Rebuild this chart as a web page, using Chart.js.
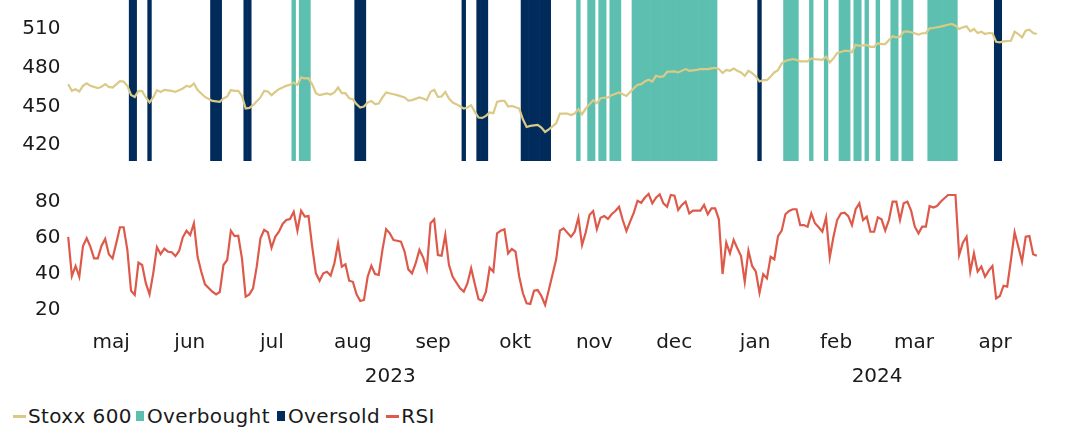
<!DOCTYPE html>
<html><head><meta charset="utf-8">
<script src="https://cdn.jsdelivr.net/npm/chart.js@4.4.1/dist/chart.umd.min.js"></script>
<style>
html,body{margin:0;padding:0;background:#fff;width:1074px;height:430px;overflow:hidden;}
#c1{position:absolute;left:0;top:0;}
#c2{position:absolute;left:0;top:170px;}
#legend{position:absolute;left:13px;top:404px;display:flex;align-items:center;font-family:"DejaVu Sans",sans-serif;font-size:20px;letter-spacing:0.4px;color:#1a1a1a;white-space:nowrap;line-height:24px;}
#legend .it{display:flex;align-items:center;}
#legend .ln{display:inline-block;width:13px;height:3px;margin-right:2px;}
#legend .bx{display:inline-block;width:8px;height:10px;margin-right:3px;}
</style></head>
<body>
<canvas id="c1" width="1074" height="161"></canvas>
<canvas id="c2" width="1074" height="229"></canvas>
<div id="legend">
  <span class="it"><span class="ln" style="background:#DACA85"></span>Stoxx 600</span>
  <span class="it" style="margin-left:4px"><span class="bx" style="background:#5CBFB0"></span>Overbought</span>
  <span class="it" style="margin-left:7px"><span class="bx" style="background:#012B5B"></span>Oversold</span>
  <span class="it" style="margin-left:6px"><span class="ln" style="background:#DD5A4B"></span>RSI</span>
</div>
<script>
// ---- data (x = trading-day index, 0 = 28 Apr 2023) ----
const stoxxDays = [0,1,2,3,4,5,6,8,9,10,11,12,13,14,15,16,17,18,19,20,21,22,23,24,25,26,28,29,31,32,33,34,35,37,39,41,42,43,44,45,46,47,48,49,50,52,53,54,55,56,57,59,60,61,62,63,64,65,66,67,68,70,71,72,73,74,75,76,77,78,79,80,81,82,83,84,85,86,88,89,91,92,93,95,96,97,98,99,100,101,102,103,104,105,107,108,109,110,111,112,113,114,115,116,117,118,119,120,122,123,124,125,127,128,129,130,132,133,135,136,137,138,139,140,142,143,144,146,147,149,151,152,154,155,156,157,158,159,160,161,162,164,165,167,168,170,171,173,174,175,176,177,178,179,180,181,182,183,184,185,186,187,188,189,190,191,192,193,194,196,197,198,200,201,202,204,205,206,207,208,210,211,212,213,214,216,217,218,219,220,221,223,224,225,226,227,229,230,231,232,233,234,236,238,239,240,241,242,243,244,245,246,247,248,249,250,251,252,253,255,256,257,258,259,260,261,262];
const stoxxValues = [467.2,462.0,463.3,461.5,465.9,467.8,465.9,464.1,465.1,467.2,465.1,464.6,467.0,469.6,469.3,465.9,458.9,457.3,462.0,461.8,456.9,453.0,456.9,462.6,461.2,462.8,462.0,461.2,463.9,465.9,465.1,467.8,462.6,457.3,454.2,453.5,456.1,457.6,462.6,462.0,462.0,458.1,448.3,448.8,450.9,456.9,462.0,461.5,458.7,461.2,463.3,465.9,466.7,468.5,466.7,472.4,471.7,471.9,467.2,460.2,458.7,460.0,459.2,460.8,464.6,460.2,460.2,456.3,455.5,451.7,449.1,449.9,453.0,454.2,451.7,452.2,456.9,460.8,459.4,458.7,456.9,454.5,454.8,456.9,456.1,454.8,461.2,462.8,457.3,457.6,461.2,456.1,453.0,451.7,448.3,449.1,450.9,445.7,441.3,441.0,442.6,445.2,444.7,453.5,454.2,454.2,449.9,450.3,448.3,440.0,434.0,434.8,435.6,433.5,430.1,432.2,436.9,444.4,444.4,443.3,444.4,447.8,443.9,448.3,454.8,452.4,456.3,456.9,458.7,460.8,458.1,461.2,466.7,467.2,469.3,470.7,469.3,473.7,472.9,473.2,476.8,477.1,476.3,478.9,477.6,478.3,478.9,478.9,479.4,479.9,478.9,475.8,478.3,477.6,479.4,477.6,476.3,473.7,477.6,475.8,473.2,469.3,470.3,470.3,473.2,476.3,478.1,483.3,485.3,486.7,486.1,484.9,484.9,487.2,486.7,486.1,488.5,484.1,487.2,491.3,493.1,493.1,491.9,497.8,497.0,497.6,496.2,496.2,498.9,498.3,498.3,504.3,503.5,504.0,507.9,508.2,506.7,505.6,506.7,506.7,510.5,510.8,511.8,513.3,513.9,512.6,510.0,511.3,512.1,508.2,510.0,506.9,507.9,506.1,506.9,506.7,500.1,499.7,500.4,500.9,507.9,506.1,503.5,508.7,509.5,506.9,506.1];

const rsiDays = [0,1,2,3,4,5,6,7,8,9,10,11,12,13,14,15,16,17,18,19,20,21,22,23,24,25,26,27,28,29,30,31,32,33,34,35,36,37,39,40,41,42,43,44,45,46,47,48,49,50,51,52,53,54,55,56,57,58,59,60,61,62,63,64,65,66,67,68,69,70,71,72,73,74,75,76,77,78,79,80,81,82,83,84,85,86,87,88,89,90,91,92,93,94,95,96,97,98,99,100,101,102,103,104,106,107,108,109,110,111,112,113,114,115,116,117,118,119,120,121,122,123,124,125,126,127,128,129,130,132,133,134,135,136,137,138,139,140,141,142,143,144,145,146,147,148,149,150,151,152,153,154,155,156,157,158,159,160,161,162,163,164,165,166,167,168,169,171,172,173,174,175,176,177,178,179,180,181,182,183,184,185,186,187,188,189,190,191,192,193,194,195,196,197,198,199,200,201,202,203,204,205,206,207,208,209,210,211,212,213,214,215,216,217,218,219,220,221,222,223,224,225,226,227,228,229,230,231,232,233,234,235,236,237,238,240,241,242,243,244,245,246,247,248,249,250,251,252,253,254,255,256,257,258,259,260,261,262];
const rsiValues = [60.4,38.6,44.2,38.2,55.3,59.6,54.9,48.4,48.4,55.3,59.2,50.7,48.4,56.8,65.7,65.7,53.1,30.4,28.1,46.0,44.7,34.6,28.4,40.1,54.6,50.8,53.8,52.1,51.8,49.7,52.5,60.1,63.8,61.4,67.9,49.3,41.0,34.0,29.9,28.4,29.7,44.7,47.5,63.8,60.8,61.0,48.4,27.1,28.4,31.8,43.8,59.6,64.2,62.9,54.3,60.4,63.2,67.5,69.7,70.3,74.3,63.8,74.9,71.6,71.9,54.9,40.1,36.0,40.1,41.0,38.8,45.7,56.8,43.8,45.1,36.0,35.4,28.4,24.7,25.3,38.2,44.3,39.7,39.2,53.1,64.6,62.3,58.6,58.2,57.7,52.1,42.3,40.1,45.7,53.1,49.0,42.3,67.9,70.1,50.3,49.9,61.4,44.7,38.2,31.8,29.9,34.6,42.9,34.0,25.7,24.9,29.9,43.2,41.0,62.3,63.8,64.6,51.2,53.6,52.1,38.2,29.0,23.4,23.1,30.4,30.8,27.5,22.5,30.8,47.9,63.8,65.1,62.7,60.4,63.2,71.0,55.8,62.9,72.5,74.7,64.6,71.0,71.9,70.3,72.9,74.7,77.1,69.7,63.6,68.8,73.8,80.4,79.3,82.2,84.2,79.0,82.1,84.0,79.0,77.1,83.6,83.2,75.3,78.1,79.9,73.4,74.9,74.9,78.1,72.9,76.2,76.2,70.1,39.7,57.1,51.2,58.6,54.0,49.7,35.4,52.7,44.2,41.0,29.3,39.6,37.3,49.3,47.9,60.8,63.8,72.9,74.7,75.7,75.7,66.9,66.9,66.0,73.4,67.9,65.7,63.2,71.2,49.0,60.4,69.7,73.4,73.8,71.9,66.9,75.7,79.0,69.7,71.6,63.2,63.2,71.2,70.1,63.8,69.7,79.9,79.9,69.7,79.0,79.9,74.9,66.0,62.3,66.0,66.0,77.5,76.6,77.5,79.9,81.8,83.6,83.6,50.3,57.1,60.4,41.0,51.2,41.0,43.8,38.2,41.6,44.2,26.2,27.5,33.2,32.7,47.5,62.9,54.9,46.6,60.4,60.8,50.7,49.9];

// signal days as [first, last] trading-day ranges
const overboughtRanges = [[61,61],[63,65],[138,138],[141,142],[144,145],[147,149],[153,175],[194,197],[201,201],[205,205],[209,211],[213,214],[216,216],[219,219],[223,224],[226,228],[233,240]];
const oversoldRanges = [[17,18],[22,22],[39,41],[48,49],[78,80],[107,107],[111,113],[123,130],[187,187],[251,252]];

const stoxxTicks = [420, 450, 480, 510];
const rsiTicks = [20, 40, 60, 80];
const monthLabels = ['maj','jun','jul','aug','sep','okt','nov','dec','jan','feb','mar','apr'];
const monthTickDays = [11.6, 32.9, 55.1, 77.0, 98.7, 120.9, 142.3, 163.9, 185.8, 207.7, 228.8, 250.7];
const yearLabels = ['2023', '2024'];
const yearTickDays = [87.1, 218.8];

// ---- helpers ----
const FONT = '"DejaVu Sans", sans-serif';
const INK = '#1a1a1a';
const X_MIN = -0.5, X_MAX = 262.5;
const AXIS_W = 66.35, PAD_R = 35.35;

const toPoints = (d, v) => d.map((x, i) => ({ x: x, y: v[i] }));
function rangesToBars(ranges) {
  const out = [];
  ranges.forEach(([a, b]) => { for (let d = a; d <= b; d++) out.push({ x: d, y: 1 }); });
  return out;
}
function yAxis(min, max, ticks) {
  return {
    position: 'left', min: min, max: max,
    grid: { display: false, drawTicks: false }, border: { display: false },
    ticks: { font: { family: FONT, size: 20 }, color: INK, padding: 6 },
    afterBuildTicks: s => { s.ticks = ticks.map(v => ({ value: v })); },
    afterFit: s => { s.width = AXIS_W; s.paddingTop = 0; s.paddingBottom = 0; }
  };
}
const common = {
  responsive: false, animation: false, events: [],
  plugins: { legend: { display: false }, tooltip: { enabled: false } }
};

// ---- top: Stoxx 600 with overbought / oversold bands ----
new Chart(document.getElementById('c1'), {
  data: { datasets: [
    { type: 'line', label: 'Stoxx 600', data: toPoints(stoxxDays, stoxxValues), yAxisID: 'y',
      borderColor: '#DACA85', borderWidth: 2.2, pointRadius: 0, tension: 0, order: 0 },
    { type: 'bar', label: 'Overbought', data: rangesToBars(overboughtRanges), yAxisID: 'yb',
      backgroundColor: '#5CBFB0', barPercentage: 1, categoryPercentage: 1, grouped: false, order: 1 },
    { type: 'bar', label: 'Oversold', data: rangesToBars(oversoldRanges), yAxisID: 'yb',
      backgroundColor: '#012B5B', barPercentage: 1, categoryPercentage: 1, grouped: false, order: 2 }
  ]},
  options: Object.assign({}, common, {
    layout: { padding: { left: 0, right: PAD_R, top: 0, bottom: 0 } },
    scales: {
      x: { type: 'linear', min: X_MIN, max: X_MAX, offset: false, display: false },
      y: yAxis(407.6, 532.5, stoxxTicks),
      yb: { display: false, min: 0, max: 1 }
    }
  })
});

// ---- bottom: RSI ----
const tickDays = monthTickDays.concat(yearTickDays);
const tickLabels = monthLabels.concat(yearLabels.map(y => ['', y]));
new Chart(document.getElementById('c2'), {
  type: 'line',
  data: { datasets: [
    { label: 'RSI', data: toPoints(rsiDays, rsiValues), borderColor: '#DD5A4B', borderWidth: 2.2,
      pointRadius: 0, tension: 0 }
  ]},
  options: Object.assign({}, common, {
    layout: { padding: { left: 0, right: PAD_R, top: 17.1, bottom: 0.5 } },
    scales: {
      x: { type: 'linear', min: X_MIN, max: X_MAX, offset: false,
        grid: { display: false, drawTicks: false }, border: { display: false },
        ticks: { autoSkip: false, maxRotation: 0, minRotation: 0, padding: 7,
          font: { family: FONT, size: 20, lineHeight: 1.7 }, color: INK,
          callback: (v, i) => tickLabels[i] },
        afterBuildTicks: s => { s.ticks = tickDays.map(v => ({ value: v })); },
        afterFit: s => { s.height = 80; s.paddingLeft = 0; s.paddingRight = 0; }
      },
      y: yAxis(15, 88, rsiTicks)
    }
  })
});
</script>
</body></html>
